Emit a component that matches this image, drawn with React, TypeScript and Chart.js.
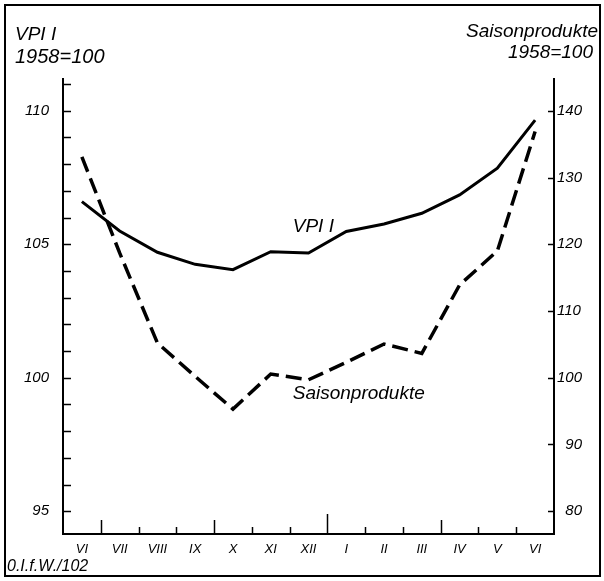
import React, { useEffect, useRef } from 'react';
import { Chart, registerables } from 'chart.js';

Chart.register(...registerables);

// ---- data ----
const months = ['VI', 'VII', 'VIII', 'IX', 'X', 'XI', 'XII', 'I', 'II', 'III', 'IV', 'V', 'VI'];
const vpiValues = [106.6, 105.5, 104.7, 104.25, 104.05, 104.72, 104.67, 105.48, 105.76, 106.16, 106.85, 107.85, 109.65];
const saisonValues = [133.1, 118.7, 105.2, 100.2, 95.3, 100.55, 99.7, 102.3, 105.05, 103.65, 113.9, 119.0, 136.9];
const leftTickLabels = [95, 100, 105, 110];
const rightTickLabels = [80, 90, 100, 110, 120, 130, 140];
const leftTitle = ['VPI I', '1958=100'];
const rightTitle = ['Saisonprodukte', '1958=100'];
const footer = '0.I.f.W./102';

const FAMILY = '"Liberation Sans", Arial, sans-serif';

export default function App() {
  const ref = useRef<HTMLCanvasElement | null>(null);

  useEffect(() => {
    const canvas = ref.current;
    if (!canvas) return;

    const decor = {
      id: 'decor',
      afterDraw(chart: any) {
        const ctx = chart.ctx as CanvasRenderingContext2D;
        const xs = chart.scales.x;
        const ys = chart.scales.y;
        const y1 = chart.scales.y1;
        const area = chart.chartArea;
        ctx.save();
        ctx.strokeStyle = '#000';
        ctx.fillStyle = '#000';
        const line = (a: number, b: number, c: number, d: number) => {
          ctx.beginPath();
          ctx.moveTo(a, b);
          ctx.lineTo(c, d);
          ctx.stroke();
        };
        // inward ticks on left axis
        ctx.lineWidth = 1.5;
        ys.ticks.forEach((t: any) => {
          const py = Math.round(ys.getPixelForValue(t.value)) + 0.5;
          line(area.left, py, area.left + 8, py);
        });
        // inward ticks on right axis
        y1.ticks.forEach((t: any) => {
          const py = Math.round(y1.getPixelForValue(t.value)) + 0.5;
          line(area.right - 6, py, area.right, py);
        });
        // x boundary ticks (month separators)
        for (let i = 0; i < months.length - 1; i++) {
          const px = Math.round((xs.getPixelForValue(i) + xs.getPixelForValue(i + 1)) / 2) + 0.5;
          const next = months[i + 1];
          let len = 7;
          if (next === 'I') len = 20;
          else if (next === 'VII' || next === 'X' || next === 'IV') len = 14;
          line(px, area.bottom, px, area.bottom - len);
        }

        // titles
        ctx.font = `italic 19px ${FAMILY}`;
        ctx.textBaseline = 'alphabetic';
        ctx.textAlign = 'left';
        ctx.fillText(leftTitle[0], 15, 40);
        ctx.font = `italic 20px ${FAMILY}`;
        ctx.fillText(leftTitle[1], 15, 63);
        ctx.font = `italic 19px ${FAMILY}`;
        ctx.textAlign = 'right';
        ctx.fillText(rightTitle[0], 598, 37);
        ctx.fillText(rightTitle[1], 593, 58);

        // in-chart series labels
        ctx.textAlign = 'left';
        ctx.font = `italic 19px ${FAMILY}`;
        ctx.fillText('VPI I', xs.getPixelForValue(5) + 22, ys.getPixelForValue(105.46));
        ctx.fillText('Saisonprodukte', xs.getPixelForValue(5) + 22, ys.getPixelForValue(99.2));

        // footer
        ctx.font = `italic 16px ${FAMILY}`;
        ctx.fillText(footer, 7, 571);

        // frame
        ctx.lineWidth = 2;
        ctx.strokeRect(5, 5, 595, 571);
        ctx.restore();
      },
    };

    const tickFont = { family: FAMILY, size: 15, style: 'italic' as const };

    const chart = new Chart(canvas, {
      type: 'line',
      data: {
        labels: months,
        datasets: [
          {
            label: 'VPI I',
            data: vpiValues,
            yAxisID: 'y',
            borderColor: '#000',
            borderWidth: 3,
            pointRadius: 0,
            tension: 0,
            fill: false,
          },
          {
            label: 'Saisonprodukte',
            data: saisonValues,
            yAxisID: 'y1',
            borderColor: '#000',
            borderWidth: 3.5,
            borderDash: [16, 7],
            pointRadius: 0,
            tension: 0,
            fill: false,
          },
        ],
      },
      options: {
        responsive: false,
        animation: false,
        devicePixelRatio: 1,
        layout: { padding: { top: 79, left: 0, right: 0, bottom: 0 } },
        plugins: { legend: { display: false }, tooltip: { enabled: false } },
        scales: {
          x: {
            type: 'category',
            offset: true,
            grid: { display: false, drawTicks: false },
            border: { display: true, color: '#000', width: 2 },
            ticks: {
              padding: 8,
              autoSkip: false,
              maxRotation: 0,
              color: '#000',
              font: { family: FAMILY, size: 13, style: 'italic' },
            },
            afterFit: (s: any) => {
              s.height = 47;
            },
          },
          y: {
            type: 'linear',
            position: 'left',
            min: 94.15,
            max: 111.19,
            grid: { display: false, drawTicks: false },
            border: { display: true, color: '#000', width: 2 },
            ticks: {
              stepSize: 1,
              autoSkip: false,
              includeBounds: false,
              padding: 14,
              color: '#000',
              font: tickFont,
              callback: (v: any) => (leftTickLabels.includes(Number(v)) ? String(v) : ''),
            },
            afterFit: (s: any) => {
              s.width = 63;
            },
          },
          y1: {
            type: 'linear',
            position: 'right',
            min: 76.58,
            max: 144.77,
            grid: { display: false, drawTicks: false },
            border: { display: true, color: '#000', width: 2 },
            ticks: {
              stepSize: 10,
              autoSkip: false,
              includeBounds: false,
              padding: 3,
              crossAlign: 'near',
              color: '#000',
              font: tickFont,
              callback: (v: any) => {
                const n = Number(v);
                if (!rightTickLabels.includes(n)) return '';
                return n < 100 ? '\u2007' + String(n) : String(n);
              },
            },
            afterFit: (s: any) => {
              s.width = 50;
            },
          },
        },
      },
      plugins: [decor],
    });

    return () => {
      chart.destroy();
    };
  }, []);

  return (
    <div style={{ position: 'absolute', left: 0, top: 0, width: 604, height: 581, background: '#fff' }}>
      <canvas ref={ref} width={604} height={581} style={{ display: 'block' }} />
    </div>
  );
}
